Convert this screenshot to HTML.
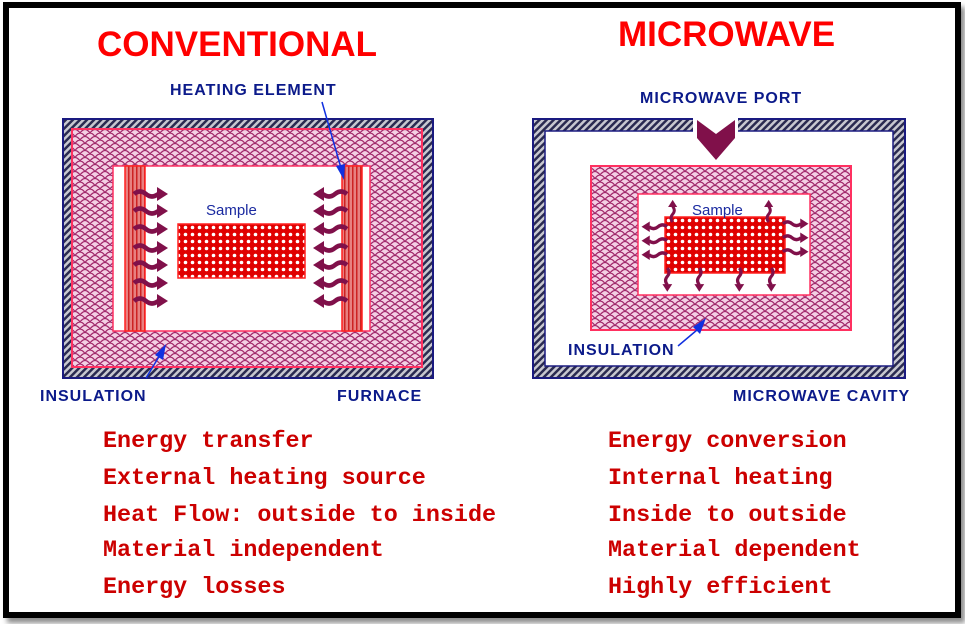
<!DOCTYPE html>
<html><head><meta charset="utf-8"><style>
html,body{margin:0;padding:0;background:#fff;}
body{width:965px;height:624px;position:relative;overflow:hidden;font-family:"Liberation Sans",sans-serif;}
.frame{position:absolute;left:3px;top:2px;width:946px;height:604px;border:6px solid #000;box-sizing:content-box;box-shadow:4px 5px 5px rgba(0,0,0,0.45);}
.t{position:absolute;white-space:nowrap;}
.title{color:#ff0000;font-weight:bold;font-size:35px;}
.lab{color:#0b1a8a;font-weight:bold;font-size:16px;letter-spacing:1px;}
.mono{font-family:"Liberation Mono",monospace;font-weight:bold;color:#cc0000;font-size:23.4px;}
</style></head><body>
<div class="frame"></div>
<svg width="965" height="624" style="position:absolute;left:0;top:0">
<defs>
<pattern id="hatch" width="5" height="5" patternUnits="userSpaceOnUse" patternTransform="rotate(45)">
<rect width="5" height="5" fill="#c8c8d0"/><rect width="2.5" height="5" fill="#2a2a50"/></pattern>
<pattern id="scale" width="10" height="7" patternUnits="userSpaceOnUse">
<rect width="10" height="7" fill="#f4d0e4"/>
<path d="M0 7 Q5 0 10 7 M-5 3.5 Q0 -3.5 5 3.5 M5 3.5 Q10 -3.5 15 3.5" fill="none" stroke="#a0286a" stroke-width="1.3"/></pattern>
<pattern id="samp" width="7" height="7" patternUnits="userSpaceOnUse">
<rect width="7" height="7" fill="#e00000"/><circle cx="3.5" cy="3.5" r="1.8" fill="#fff"/></pattern>
<pattern id="heat" width="4" height="4" patternUnits="userSpaceOnUse">
<rect width="4" height="4" fill="#e88080"/><rect width="1.5" height="4" fill="#cc2222"/></pattern>
<g id="wav"><path d="M0 1 Q6 -4 12 1 T24 1" fill="none" stroke="#80104a" stroke-width="4.5"/><polygon points="23,-6 34,1 23,8" fill="#80104a"/></g>
</defs>

<rect x="63" y="119" width="370" height="259" fill="url(#hatch)" stroke="#1a1a80" stroke-width="2"/>
<rect x="72" y="129" width="350" height="238" fill="url(#scale)" stroke="#ff3060" stroke-width="2"/>
<rect x="113" y="166" width="257" height="165" fill="#fff" stroke="#ff3060" stroke-width="1.5"/>
<rect x="125" y="166" width="20" height="165" fill="url(#heat)" stroke="#ff2020" stroke-width="1.5"/>
<rect x="342" y="166" width="20" height="165" fill="url(#heat)" stroke="#ff2020" stroke-width="1.5"/>
<rect x="178" y="224" width="127" height="54" fill="url(#samp)" stroke="#ff2020" stroke-width="1.5"/>
<g>
<use href="#wav" x="134" y="193"/><use href="#wav" x="134" y="210"/><use href="#wav" x="134" y="228"/><use href="#wav" x="134" y="247"/><use href="#wav" x="134" y="264"/><use href="#wav" x="134" y="282"/><use href="#wav" x="134" y="300"/>
</g>
<g transform="translate(660,0) scale(-1,1)">
<use href="#wav" x="313" y="193"/><use href="#wav" x="313" y="210"/><use href="#wav" x="313" y="228"/><use href="#wav" x="313" y="247"/><use href="#wav" x="313" y="264"/><use href="#wav" x="313" y="282"/><use href="#wav" x="313" y="300"/>
</g>
<line x1="322" y1="102" x2="341" y2="168" stroke="#1030e0" stroke-width="1.5"/>
<polygon points="344,180 336,166 345,164" fill="#1030e0"/>
<line x1="146" y1="378" x2="160" y2="355" stroke="#1030e0" stroke-width="1.5"/>
<polygon points="166,344 163,360 155,355" fill="#1030e0"/>

<rect x="533" y="119" width="372" height="259" fill="url(#hatch)" stroke="#1a1a80" stroke-width="2"/>
<rect x="545" y="131" width="348" height="235" fill="#fff" stroke="#1a1a80" stroke-width="1.5"/>
<rect x="693" y="116" width="45" height="16" fill="#fff"/>
<polygon points="697,120 716,134 735,120 735,138 716,160 697,138" fill="#80104a"/>
<rect x="591" y="166" width="260" height="164" fill="url(#scale)" stroke="#ff3060" stroke-width="2"/>
<rect x="638" y="194" width="172" height="101" fill="#fff" stroke="#ff3060" stroke-width="1.5"/>
<rect x="665" y="217" width="120" height="56" fill="url(#samp)" stroke="#ff2020" stroke-width="1.5"/>
<g>
<use href="#wav" transform="translate(667,226) scale(-0.75,0.75)"/>
<use href="#wav" transform="translate(667,240) scale(-0.75,0.75)"/>
<use href="#wav" transform="translate(667,254) scale(-0.75,0.75)"/>
<use href="#wav" transform="translate(783,223) scale(0.75,0.75)"/>
<use href="#wav" transform="translate(783,237) scale(0.75,0.75)"/>
<use href="#wav" transform="translate(783,251) scale(0.75,0.75)"/>
<use href="#wav" transform="translate(668,268) rotate(90) scale(0.7,0.7)"/>
<use href="#wav" transform="translate(700,268) rotate(90) scale(0.7,0.7)"/>
<use href="#wav" transform="translate(740,268) rotate(90) scale(0.7,0.7)"/>
<use href="#wav" transform="translate(772,268) rotate(90) scale(0.7,0.7)"/>
<use href="#wav" transform="translate(672,222) rotate(-90) scale(0.65,0.65)"/>
<use href="#wav" transform="translate(768,222) rotate(-90) scale(0.65,0.65)"/>
</g>
<line x1="678" y1="346" x2="697" y2="330" stroke="#1030e0" stroke-width="1.5"/>
<polygon points="706,318 700,334 693,327" fill="#1030e0"/>
</svg>

<div class="t title" style="left:97px;top:25px;">CONVENTIONAL</div>
<div class="t title" style="left:618px;top:15px;">MICROWAVE</div>
<div class="t lab" style="left:170px;top:82px;">HEATING ELEMENT</div>
<div class="t lab" style="left:640px;top:90px;">MICROWAVE PORT</div>
<div class="t lab" style="left:40px;top:388px;">INSULATION</div>
<div class="t lab" style="left:337px;top:388px;">FURNACE</div>
<div class="t lab" style="left:568px;top:342px;">INSULATION</div>
<div class="t lab" style="left:733px;top:388px;">MICROWAVE CAVITY</div>
<div class="t" style="left:206px;top:202px;color:#1a2aa0;font-size:15px;">Sample</div>
<div class="t" style="left:692px;top:202px;color:#1a2aa0;font-size:15px;">Sample</div>

<div class="t mono" style="left:103px;top:429px;">Energy transfer</div>
<div class="t mono" style="left:103px;top:466px;">External heating source</div>
<div class="t mono" style="left:103px;top:503px;">Heat Flow: outside to inside</div>
<div class="t mono" style="left:103px;top:538px;">Material independent</div>
<div class="t mono" style="left:103px;top:575px;">Energy losses</div>
<div class="t mono" style="left:608px;top:429px;">Energy conversion</div>
<div class="t mono" style="left:608px;top:466px;">Internal heating</div>
<div class="t mono" style="left:608px;top:503px;">Inside to outside</div>
<div class="t mono" style="left:608px;top:538px;">Material dependent</div>
<div class="t mono" style="left:608px;top:575px;">Highly efficient</div>
</body></html>
